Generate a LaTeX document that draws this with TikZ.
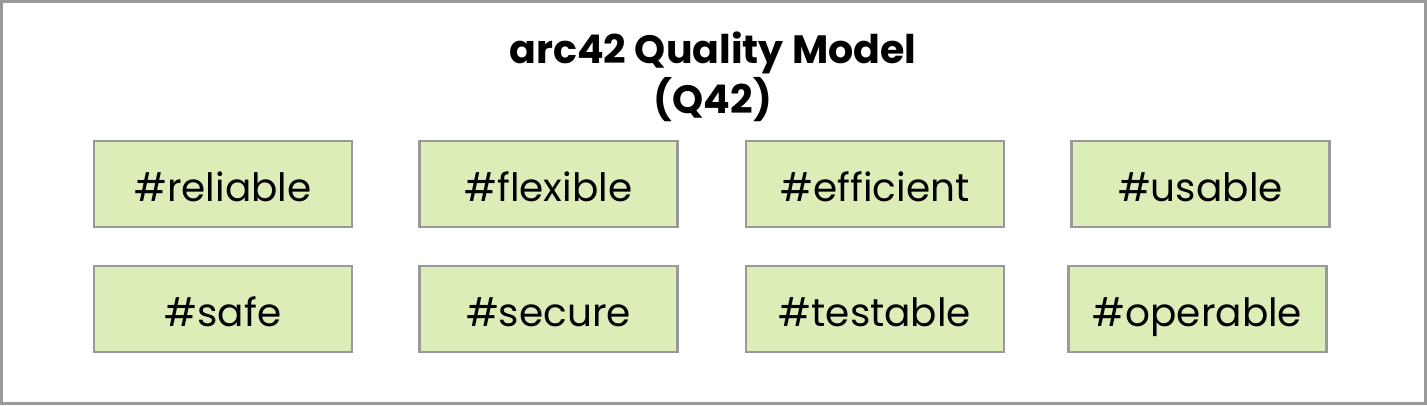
\documentclass[tikz,border=0pt]{standalone}
\usepackage{fontspec}
\setmainfont{Poppins}
\usepackage{tikz}
\definecolor{qgreen}{HTML}{DDEDB8}
\definecolor{qgray}{HTML}{999999}

\begin{document}
\begin{tikzpicture}[x=1pt,y=-1pt,
  qbox/.style={draw=qgray,line width=2.5pt,fill=qgreen,minimum width=258pt,minimum height=86pt,inner sep=0pt,text height=40pt,text depth=6pt,font=\fontsize{39}{44}\selectfont},
  qtitle/.style={align=center,font=\bfseries\fontsize{39.5}{50}\selectfont}]
\useasboundingbox (0,0) rectangle (1427,405);
\draw[qgray,line width=3pt] (1.5,1.5) rectangle (1425.5,403.5);
\node[qtitle] (title) at (713,77) {arc42 Quality Model\\(Q42)};
%first row
\node[qbox] (reliable) at (223,184) {\#reliable};
\node[qbox] (flexible) at (548.5,184) {\#flexible};
\node[qbox] (efficient) at (875,184) {\#efficient};
\node[qbox] (usable) at (1200.5,184) {\#usable};
%second row
\node[qbox] (safe) at (223,309) {\#safe};
\node[qbox] (secure) at (548.5,309) {\#secure};
\node[qbox] (testable) at (875,309) {\#testable};
\node[qbox] (operable) at (1197.5,309) {\#operable};
\end{tikzpicture}
\end{document}
